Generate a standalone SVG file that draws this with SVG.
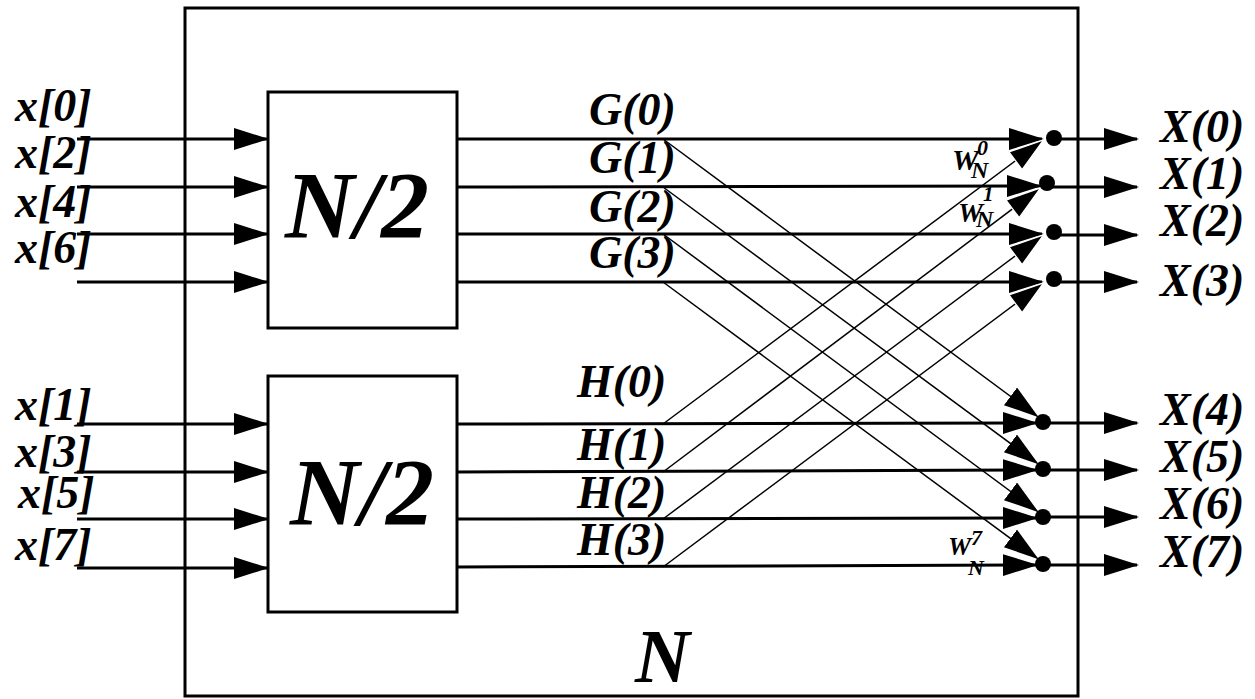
<svg xmlns="http://www.w3.org/2000/svg" width="1255" height="699" viewBox="0 0 1255 699">
<style>
.t{font-family:"Liberation Serif","Times New Roman",serif;font-weight:bold;font-style:italic;fill:#000}
.lbl{font-size:46px}
.box{fill:none;stroke:#000;stroke-width:3}
.thick{stroke:#000;stroke-width:3;fill:none}
.thin{stroke:#000;stroke-width:1.5;fill:none}
.dot{fill:#000}
</style>
<defs>
<marker id="ah" markerUnits="userSpaceOnUse" markerWidth="36" markerHeight="24" refX="33" refY="11" orient="auto">
<path d="M0,0 L35,11 L0,22 z" fill="#000"/>
</marker>
<marker id="ahw" markerUnits="userSpaceOnUse" markerWidth="40" markerHeight="28" refX="35" refY="13" orient="auto">
<path d="M2,2 L37,13 L2,24 z" fill="#000" stroke="#fff" stroke-width="1.3"/>
</marker>
</defs>

<g id="outer-box"><rect class="box" x="185" y="8" width="893" height="688"/>
<text class="t" x="635" y="682" font-size="76">N</text></g>

<g id="dft-top"><rect class="box" x="268" y="92" width="189" height="236"/>
<text class="t" x="285" y="238" font-size="96">N/2</text></g>
<g id="dft-bottom"><rect class="box" x="268" y="376" width="189" height="236"/>
<text class="t" x="290" y="525" font-size="96">N/2</text></g>

<g id="connectors">
<!-- inputs -->
<line class="thick" x1="77" y1="139" x2="267" y2="139" marker-end="url(#ah)"/>
<line class="thick" x1="77" y1="187" x2="267" y2="187" marker-end="url(#ah)"/>
<line class="thick" x1="77" y1="234" x2="267" y2="234" marker-end="url(#ah)"/>
<line class="thick" x1="77" y1="282" x2="267" y2="282" marker-end="url(#ah)"/>
<line class="thick" x1="77" y1="424" x2="267" y2="424" marker-end="url(#ah)"/>
<line class="thick" x1="77" y1="472" x2="267" y2="472" marker-end="url(#ah)"/>
<line class="thick" x1="77" y1="519" x2="267" y2="519" marker-end="url(#ah)"/>
<line class="thick" x1="77" y1="568" x2="267" y2="568" marker-end="url(#ah)"/>
<!-- horizontals from DFT outputs -->
<line class="thick" x1="457" y1="139" x2="1042" y2="139" marker-end="url(#ah)"/>
<line class="thick" x1="457" y1="187" x2="1040" y2="186" marker-end="url(#ah)"/>
<line class="thick" x1="457" y1="234" x2="1042" y2="234" marker-end="url(#ah)"/>
<line class="thick" x1="457" y1="282" x2="1042" y2="282" marker-end="url(#ah)"/>
<line class="thick" x1="457" y1="424" x2="1036" y2="423" marker-end="url(#ah)"/>
<line class="thick" x1="457" y1="472" x2="1036" y2="470" marker-end="url(#ah)"/>
<line class="thick" x1="457" y1="519" x2="1036" y2="518" marker-end="url(#ah)"/>
<line class="thick" x1="457" y1="567" x2="1036" y2="565" marker-end="url(#ah)"/>
<!-- G diagonals to lower outputs -->
<line class="thin" x1="663" y1="139" x2="1037" y2="416" marker-end="url(#ah)"/>
<line class="thin" x1="663" y1="187" x2="1037" y2="463" marker-end="url(#ah)"/>
<line class="thin" x1="663" y1="234" x2="1037" y2="511" marker-end="url(#ah)"/>
<line class="thin" x1="663" y1="282" x2="1037" y2="558" marker-end="url(#ah)"/>
<!-- H diagonals to upper outputs -->
<line class="thin" x1="663" y1="424" x2="1042" y2="141" marker-end="url(#ahw)"/>
<line class="thin" x1="663" y1="472" x2="1039" y2="189" marker-end="url(#ahw)"/>
<line class="thin" x1="663" y1="519" x2="1042" y2="236" marker-end="url(#ahw)"/>
<line class="thin" x1="663" y1="567" x2="1042" y2="284" marker-end="url(#ahw)"/>
<!-- outputs -->
<line class="thick" x1="1054" y1="139" x2="1137" y2="139" marker-end="url(#ah)"/>
<line class="thick" x1="1047" y1="187" x2="1137" y2="187" marker-end="url(#ah)"/>
<line class="thick" x1="1054" y1="235" x2="1137" y2="235" marker-end="url(#ah)"/>
<line class="thick" x1="1054" y1="282" x2="1137" y2="282" marker-end="url(#ah)"/>
<line class="thick" x1="1043" y1="423" x2="1137" y2="423" marker-end="url(#ah)"/>
<line class="thick" x1="1043" y1="470" x2="1137" y2="470" marker-end="url(#ah)"/>
<line class="thick" x1="1043" y1="517" x2="1137" y2="517" marker-end="url(#ah)"/>
<line class="thick" x1="1043" y1="565" x2="1137" y2="565" marker-end="url(#ah)"/>
</g>

<g id="sum-nodes">
<circle class="dot" cx="1054" cy="138" r="8"/>
<circle class="dot" cx="1047" cy="183" r="8"/>
<circle class="dot" cx="1054" cy="232" r="8"/>
<circle class="dot" cx="1054" cy="279" r="8"/>
<circle class="dot" cx="1043" cy="422" r="8"/>
<circle class="dot" cx="1043" cy="469" r="8"/>
<circle class="dot" cx="1043" cy="517" r="8"/>
<circle class="dot" cx="1043" cy="564" r="8"/>
</g>

<g id="input-labels" class="t lbl">
<text x="15" y="121">x[0]</text>
<text x="15" y="168">x[2]</text>
<text x="15" y="217">x[4]</text>
<text x="15" y="263">x[6]</text>
<text x="15" y="420">x[1]</text>
<text x="15" y="467">x[3]</text>
<text x="18" y="508">x[5]</text>
<text x="15" y="560">x[7]</text>
</g>

<g id="g-labels" class="t lbl">
<text x="589" y="125">G(0)</text>
<text x="589" y="173">G(1)</text>
<text x="589" y="222">G(2)</text>
<text x="589" y="268">G(3)</text>
</g>
<g id="h-labels" class="t lbl">
<text x="577" y="397">H(0)</text>
<text x="577" y="460">H(1)</text>
<text x="577" y="508">H(2)</text>
<text x="577" y="555">H(3)</text>
</g>

<g id="output-labels" class="t lbl">
<text x="1160" y="142">X(0)</text>
<text x="1160" y="189">X(1)</text>
<text x="1160" y="236">X(2)</text>
<text x="1160" y="296">X(3)</text>
<text x="1160" y="425">X(4)</text>
<text x="1160" y="472">X(5)</text>
<text x="1160" y="519">X(6)</text>
<text x="1160" y="567">X(7)</text>
</g>

<g id="twiddles" class="t">
<text x="952" y="170" font-size="30">W</text>
<text x="977" y="155" font-size="22">0</text>
<text x="971" y="178" font-size="24">N</text>
<text x="958" y="222" font-size="28">W</text>
<text x="983" y="201" font-size="21">1</text>
<text x="976" y="227" font-size="24">N</text>
<text x="948" y="555" font-size="26">W</text>
<text x="971" y="545" font-size="22">7</text>
<text x="968" y="575" font-size="22">N</text>
</g>
</svg>
